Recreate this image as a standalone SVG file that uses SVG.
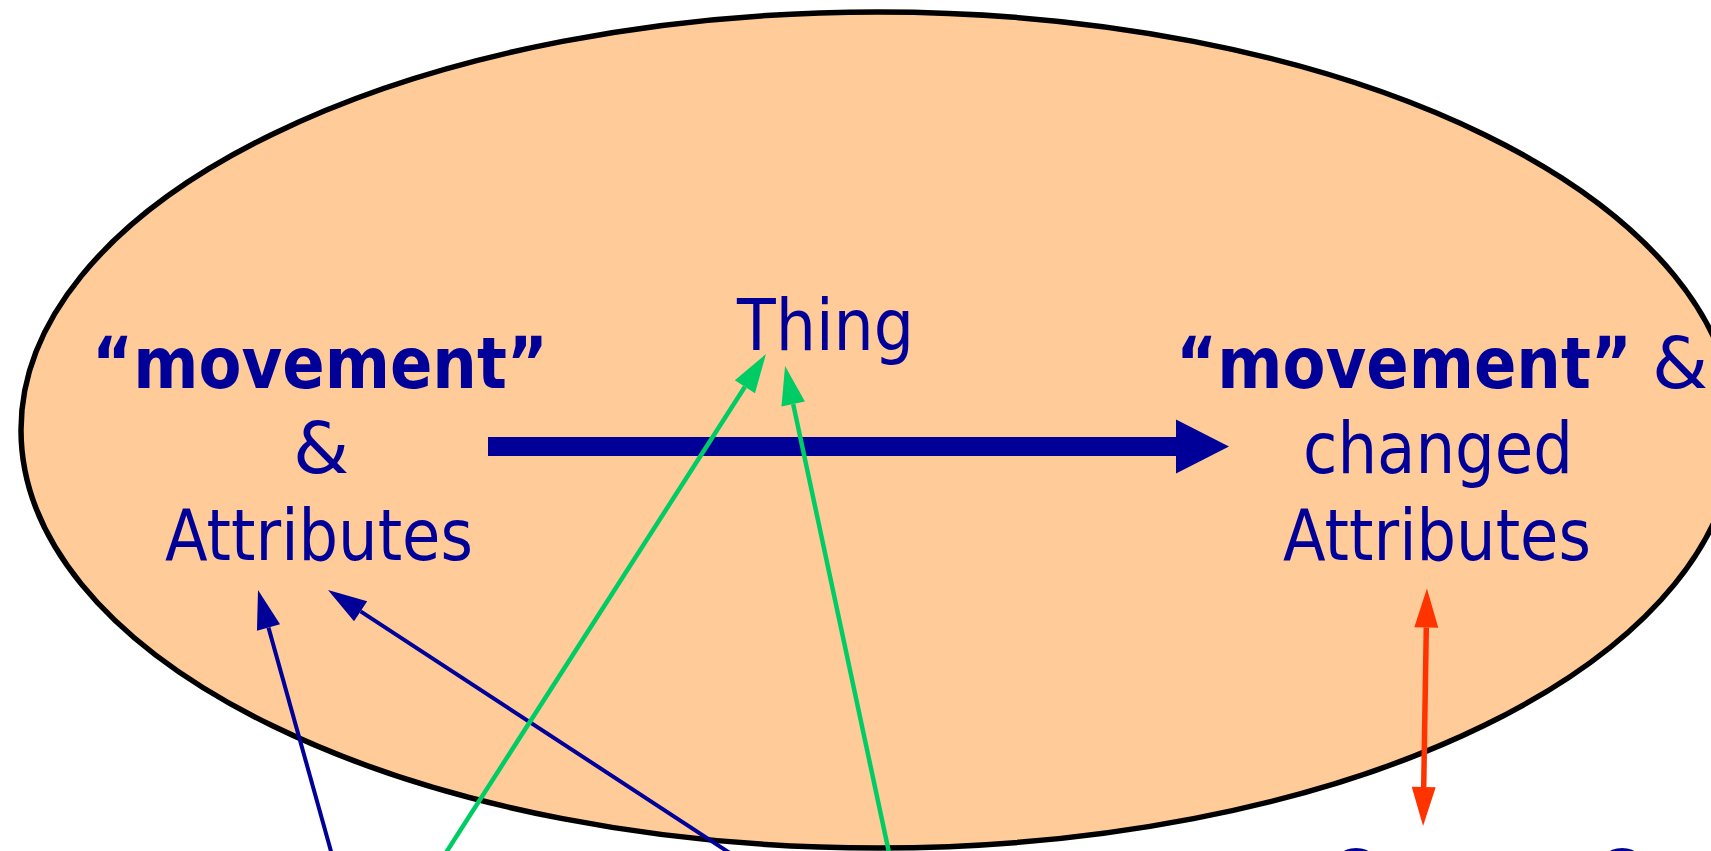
<svg xmlns="http://www.w3.org/2000/svg" width="1711" height="851" viewBox="0 0 1711 851">
<style>
.t{font-family:"DejaVu Sans","Liberation Sans",sans-serif;font-size:72px;fill:#000099}
.b{font-weight:bold}
.blue{stroke:#000099;stroke-width:4;fill:none}
.green{stroke:#00CC66;stroke-width:4.5;fill:none}
.red{stroke:#FF3300;stroke-width:5.5;fill:none}
</style>
<defs>
<marker id="hb" markerUnits="userSpaceOnUse" markerWidth="40" markerHeight="24" refX="0" refY="12" orient="auto" overflow="visible"><path d="M0,0 L39,12 L0,24 z" fill="#000099"/></marker>
<marker id="hg" markerUnits="userSpaceOnUse" markerWidth="40" markerHeight="24" refX="0" refY="12" orient="auto" overflow="visible"><path d="M0,0 L39,12 L0,24 z" fill="#00CC66"/></marker>
<marker id="hr" markerUnits="userSpaceOnUse" markerWidth="40" markerHeight="24" refX="0" refY="12" orient="auto-start-reverse" overflow="visible"><path d="M0,0 L39,12 L0,24 z" fill="#FF3300"/></marker>
<marker id="hbig" markerUnits="userSpaceOnUse" markerWidth="54" markerHeight="54" refX="0" refY="27" orient="auto" overflow="visible"><path d="M0,0 L53,27 L0,54 z" fill="#000099"/></marker>
</defs>
<g id="ellipse">
<ellipse cx="878" cy="430" rx="857" ry="418" fill="#FFCC99" stroke="#000000" stroke-width="5.5"/>
</g>
<g id="node-left">
<text class="t b" x="92" y="388" textLength="456" lengthAdjust="spacingAndGlyphs">“movement”</text>
<text class="t" x="321" y="473" text-anchor="middle">&amp;</text>
<text class="t" x="165" y="560" textLength="308" lengthAdjust="spacingAndGlyphs">Attributes</text>
</g>
<g id="node-thing">
<text class="t" x="737" y="350" textLength="177" lengthAdjust="spacingAndGlyphs">Thing</text>
</g>
<g id="node-right">
<text class="t" x="1176" y="388"><tspan class="b" textLength="456" lengthAdjust="spacingAndGlyphs">“movement”</tspan><tspan x="1652">&amp;</tspan></text>
<text class="t" x="1303" y="473" textLength="270" lengthAdjust="spacingAndGlyphs">changed</text>
<text class="t" x="1283" y="560" textLength="308" lengthAdjust="spacingAndGlyphs">Attributes</text>
</g>
<g id="node-bottom">
<text class="t" x="1356" y="901" text-anchor="middle">O</text>
<text class="t" x="1622" y="901" text-anchor="middle">O</text>
</g>
<g id="connectors">
<line x1="488" y1="446.5" x2="1176" y2="446.5" stroke="#000099" stroke-width="19" marker-end="url(#hbig)"/>
<line class="blue" x1="334" y1="862" x2="268.5" y2="627.6" marker-end="url(#hb)"/>
<line class="blue" x1="742" y1="861" x2="360.6" y2="611.3" marker-end="url(#hb)"/>
<line class="green" x1="440" y1="862" x2="744.9" y2="386.8" marker-end="url(#hg)"/>
<line class="green" x1="891" y1="862" x2="793.2" y2="404.1" marker-end="url(#hg)"/>
<line class="red" x1="1426.3" y1="627.5" x2="1423.7" y2="787" marker-start="url(#hr)" marker-end="url(#hr)"/>
</g>
</svg>
